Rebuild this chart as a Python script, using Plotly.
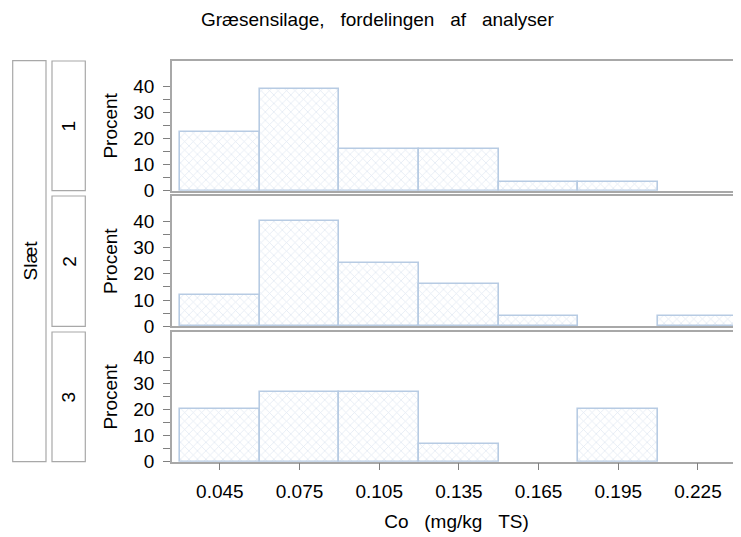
import plotly.graph_objects as go

# Data
bin_mid = [0.045, 0.075, 0.105, 0.135, 0.165, 0.195, 0.225]
bin_width = 0.03
slaet_labels = ["1", "2", "3"]
pct_slaet1 = [22.6, 38.7, 16.1, 16.1, 3.2, 3.2, 0.0]
pct_slaet2 = [12.0, 40.0, 24.0, 16.0, 4.0, 0.0, 4.0]
pct_slaet3 = [20.0, 26.7, 26.7, 6.7, 0.0, 20.0, 0.0]
series = [pct_slaet1, pct_slaet2, pct_slaet3]
x_ticks = [0.045, 0.075, 0.105, 0.135, 0.165, 0.195, 0.225]
x_tick_text = ["0.045", "0.075", "0.105", "0.135", "0.165", "0.195", "0.225"]
y_ticks = [0, 5, 10, 15, 20, 25, 30, 35, 40]
y_tick_text = ["0", "", "10", "", "20", "", "30", "", "40"]

OFF = 8  # page body margin
W, H = 741 - OFF, 537 - OFF
FONT = "Liberation Sans, Arial, Helvetica, sans-serif"
FS = 19
FRAME = "#a8a8a8"
TICK = "#808080"
BAR_LINE = "#b7cbe3"
SP = "\u00a0 \u00a0"

# panel page-pixel bounds (top, bottom)
panels_px = [(61, 190.7), (196, 326.3), (332, 461.7)]
x_left_px = 172

def px(p):
    return (p - OFF) / W

def py(p):
    return 1 - (p - OFF) / H

fig = go.Figure()
for i, vals in enumerate(series):
    n = i + 1
    xa = "x" if n == 1 else f"x{n}"
    ya = "y" if n == 1 else f"y{n}"
    fig.add_trace(go.Bar(
        x=bin_mid, y=[v if v > 0 else None for v in vals],
        width=[bin_width] * len(bin_mid),
        xaxis=xa, yaxis=ya, showlegend=False, hoverinfo="x+y",
        marker=dict(
            color="white",
            line=dict(color=BAR_LINE, width=1.6),
            pattern=dict(shape="x", fgcolor="#bfd0e6", bgcolor="white",
                         size=6, solidity=0.22, fillmode="overlay"),
        ),
    ))

layout = dict(
    width=W, height=H, autosize=False,
    margin=dict(l=0, r=0, t=0, b=0, autoexpand=False),
    paper_bgcolor="white", plot_bgcolor="white",
    font=dict(family=FONT, size=FS, color="black"),
    bargap=0,
)

xrange = [0.02699, 0.2412]
for i, (top, bot) in enumerate(panels_px):
    n = i + 1
    xk = "xaxis" if n == 1 else f"xaxis{n}"
    yk = "yaxis" if n == 1 else f"yaxis{n}"
    xanchor = "y" if n == 1 else f"y{n}"
    yanchor = "x" if n == 1 else f"x{n}"
    last = (n == 3)
    xa = dict(
        domain=[px(x_left_px), 1.0], anchor=xanchor, range=xrange,
        automargin=False,
        showgrid=False, zeroline=False, showline=True, mirror=True,
        linecolor=FRAME, linewidth=1.5,
        tickvals=x_ticks if last else [],
        ticktext=x_tick_text if last else [],
        ticks="outside" if last else "", ticklen=7, tickcolor=TICK,
        showticklabels=last, ticklabelstandoff=5,
        tickfont=dict(size=FS),
    )
    if last:
        xa["title"] = dict(text="Co" + SP + "(mg/kg" + SP + "TS)",
                           font=dict(size=FS), standoff=13)
    layout[xk] = xa
    layout[yk] = dict(
        domain=[py(bot), py(top)], anchor=yanchor, range=[0, 49.55],
        automargin=False,
        showgrid=False, zeroline=False, showline=True, mirror=True,
        linecolor=FRAME, linewidth=1.5,
        tickvals=y_ticks, ticktext=y_tick_text,
        ticks="outside", ticklen=7, tickcolor=TICK, ticklabelstandoff=5,
        tickfont=dict(size=FS),
        title=dict(text="Procent", font=dict(size=FS), standoff=11),
    )

fig.update_layout(**layout)

shapes = []
annotations = []
# outer strip "Slæt"
shapes.append(dict(type="rect", xref="paper", yref="paper",
                   x0=px(12.7), x1=px(46), y0=py(461.7), y1=py(60.7),
                   line=dict(color=FRAME, width=1.2), fillcolor="white"))
annotations.append(dict(text="Slæt", xref="paper", yref="paper",
                        x=px(29.5), y=py(261), showarrow=False, textangle=-90,
                        font=dict(size=FS), xanchor="center", yanchor="middle"))
for i, (top, bot) in enumerate(panels_px):
    shapes.append(dict(type="rect", xref="paper", yref="paper",
                       x0=px(52), x1=px(85.3), y0=py(bot), y1=py(top),
                       line=dict(color=FRAME, width=1.2), fillcolor="white"))
    annotations.append(dict(text=slaet_labels[i], xref="paper", yref="paper",
                            x=px(68.7), y=py((top + bot) / 2), showarrow=False,
                            textangle=-90, font=dict(size=FS),
                            xanchor="center", yanchor="middle"))
annotations.append(dict(text="Græsensilage," + SP + "fordelingen" + SP + "af" + SP + "analyser",
                        xref="paper", yref="paper", x=px(377), y=py(20),
                        showarrow=False, font=dict(size=FS),
                        xanchor="center", yanchor="middle"))
fig.update_layout(shapes=shapes, annotations=annotations)

fig.write_html("out.html")
